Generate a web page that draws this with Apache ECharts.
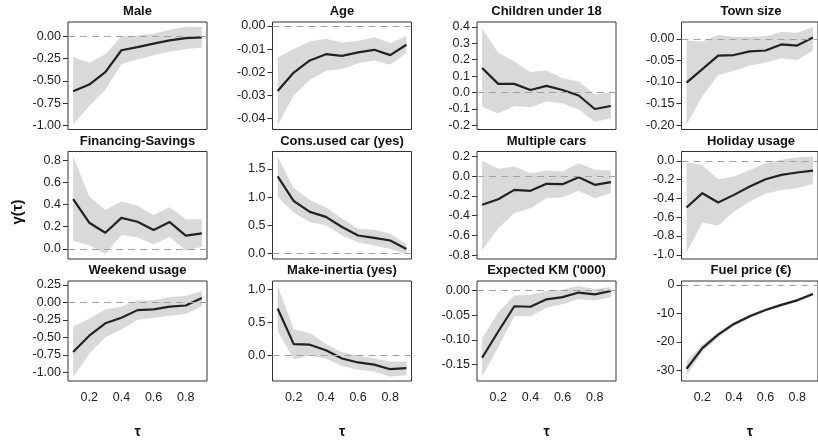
<!DOCTYPE html>
<html><head><meta charset="utf-8">
<script src="https://cdn.jsdelivr.net/npm/echarts@6/dist/echarts.min.js"></script>
<style>html,body{margin:0;padding:0;background:#fff}#c{width:818px;height:440px}</style>
</head><body><div id="c"></div>
<script>
const tau = [0.1,0.2,0.3,0.4,0.5,0.6,0.7,0.8,0.9];
const xTickLabels = ["0.2","0.4","0.6","0.8"];

const titles = ["Male","Age","Children under 18","Town size","Financing-Savings","Cons.used car (yes)","Multiple cars","Holiday usage","Weekend usage","Make-inertia (yes)","Expected KM ('000)","Fuel price (\u20ac)"];

const maleEst = [-0.615,-0.54,-0.40,-0.155,-0.12,-0.08,-0.045,-0.02,-0.01];
const maleLo  = [-0.99,-0.78,-0.60,-0.31,-0.26,-0.21,-0.17,-0.145,-0.125];
const maleHi  = [-0.23,-0.295,-0.20,0.0,0.01,0.03,0.075,0.11,0.105];
const maleTicks = ["0.00","-0.25","-0.50","-0.75","-1.00"];

const ageEst = [-0.0281,-0.0201,-0.0149,-0.0122,-0.0129,-0.0114,-0.0103,-0.0126,-0.0081];
const ageLo  = [-0.0429,-0.0299,-0.0233,-0.0193,-0.0186,-0.0161,-0.0149,-0.0168,-0.0117];
const ageHi  = [-0.0136,-0.0100,-0.0067,-0.0055,-0.0071,-0.0065,-0.0049,-0.0074,-0.0045];
const ageTicks = ["0.00","-0.01","-0.02","-0.03","-0.04"];

const childEst = [0.15,0.053,0.053,0.016,0.041,0.016,-0.018,-0.10,-0.082];
const childLo  = [-0.086,-0.127,-0.082,-0.09,-0.055,-0.066,-0.103,-0.178,-0.158];
const childHi  = [0.39,0.242,0.19,0.125,0.135,0.088,0.068,-0.01,0.0];
const childTicks = ["0.4","0.3","0.2","0.1","0.0","-0.1","-0.2"];

const townEst = [-0.1016,-0.070,-0.039,-0.0375,-0.029,-0.027,-0.013,-0.0156,0.003];
const townLo  = [-0.199,-0.133,-0.084,-0.074,-0.0625,-0.055,-0.045,-0.049,-0.027];
const townHi  = [-0.004,-0.006,0.009,0.004,0.004,0.006,0.016,0.014,0.027];
const townTicks = ["0.00","-0.05","-0.10","-0.15","-0.20"];

const finEst = [0.45,0.236,0.145,0.28,0.245,0.17,0.242,0.12,0.14];
const finLo  = [0.073,0.033,-0.048,0.124,0.103,0.042,0.109,-0.018,0.018];
const finHi  = [0.836,0.473,0.35,0.427,0.39,0.306,0.376,0.267,0.267];
const finTicks = ["0.8","0.6","0.4","0.2","0.0"];

const consEst = [1.368,0.93,0.738,0.648,0.468,0.318,0.276,0.228,0.078];
const consLo  = [1.008,0.72,0.558,0.498,0.318,0.198,0.138,0.078,-0.012];
const consHi  = [1.716,1.158,0.948,0.816,0.618,0.438,0.42,0.348,0.168];
const consTicks = ["1.5","1.0","0.5","0.0"];

const multEst = [-0.29,-0.234,-0.139,-0.149,-0.078,-0.081,-0.01,-0.088,-0.06];
const multLo  = [-0.75,-0.529,-0.376,-0.325,-0.224,-0.214,-0.149,-0.224,-0.173];
const multHi  = [0.156,0.075,0.098,0.03,0.058,0.047,0.132,0.064,0.058];
const multTicks = ["0.2","0.0","-0.2","-0.4","-0.6","-0.8"];

const holEst = [-0.496,-0.344,-0.443,-0.362,-0.273,-0.195,-0.149,-0.124,-0.103];
const holLo  = [-0.975,-0.656,-0.691,-0.539,-0.433,-0.351,-0.309,-0.291,-0.245];
const holHi  = [-0.018,-0.043,-0.195,-0.167,-0.096,-0.025,0.011,0.039,0.046];
const holTicks = ["0.0","-0.2","-0.4","-0.6","-0.8","-1.0"];

const wkEst = [-0.706,-0.474,-0.298,-0.219,-0.11,-0.10,-0.061,-0.044,0.061];
const wkLo  = [-1.066,-0.737,-0.496,-0.386,-0.246,-0.224,-0.189,-0.167,-0.057];
const wkHi  = [-0.342,-0.232,-0.10,-0.057,0.03,0.03,0.075,0.096,0.162];
const wkTicks = ["0.25","0.00","-0.25","-0.50","-0.75","-1.00"];

const makeEst = [0.71,0.168,0.159,0.075,-0.051,-0.112,-0.145,-0.215,-0.20];
const makeLo  = [0.369,-0.065,-0.005,-0.051,-0.168,-0.224,-0.252,-0.332,-0.308];
const makeHi  = [1.056,0.393,0.336,0.168,0.042,-0.005,-0.051,-0.098,-0.098];
const makeTicks = ["1.0","0.5","0.0"];

const kmEst = [-0.136,-0.083,-0.032,-0.033,-0.018,-0.0136,-0.0043,-0.008,-0.0012];
const kmLo  = [-0.174,-0.115,-0.052,-0.052,-0.035,-0.028,-0.018,-0.020,-0.0136];
const kmHi  = [-0.097,-0.044,-0.0105,-0.009,-0.001,0.002,0.009,0.003,0.007];
const kmTicks = ["0.00","-0.05","-0.10","-0.15"];

const fuelEst = [-29.5,-22.2,-17.5,-13.7,-11.0,-8.8,-7.0,-5.4,-3.2];
const fuelLo  = [-31.8,-23.6,-18.5,-14.5,-11.6,-9.3,-7.5,-5.9,-3.8];
const fuelHi  = [-26.8,-21.0,-16.6,-13.0,-10.4,-8.3,-6.5,-4.9,-2.6];
const fuelTicks = ["0","-10","-20","-30"];

const panels = [
  {est:maleEst, lo:maleLo, hi:maleHi, ticks:maleTicks, ymin:-1.045, ymax:0.162},
  {est:ageEst, lo:ageLo, hi:ageHi, ticks:ageTicks, ymin:-0.0447, ymax:0.0017},
  {est:childEst, lo:childLo, hi:childHi, ticks:childTicks, ymin:-0.225, ymax:0.43},
  {est:townEst, lo:townLo, hi:townHi, ticks:townTicks, ymin:-0.21, ymax:0.039},
  {est:finEst, lo:finLo, hi:finHi, ticks:finTicks, ymin:-0.092, ymax:0.88},
  {est:consEst, lo:consLo, hi:consHi, ticks:consTicks, ymin:-0.1, ymax:1.81},
  {est:multEst, lo:multLo, hi:multHi, ticks:multTicks, ymin:-0.84, ymax:0.25},
  {est:holEst, lo:holLo, hi:holHi, ticks:holTicks, ymin:-1.045, ymax:0.1},
  {est:wkEst, lo:wkLo, hi:wkHi, ticks:wkTicks, ymin:-1.12, ymax:0.305},
  {est:makeEst, lo:makeLo, hi:makeHi, ticks:makeTicks, ymin:-0.395, ymax:1.13},
  {est:kmEst, lo:kmLo, hi:kmHi, ticks:kmTicks, ymin:-0.183, ymax:0.019},
  {est:fuelEst, lo:fuelLo, hi:fuelHi, ticks:fuelTicks, ymin:-33.8, ymax:1.4}
];

const colLeft = [68, 272.5, 477, 681.5];
const rowTop = [22, 151.5, 281];
const W = 139, H = 107.5;
const FONT = "'Liberation Sans', Arial, sans-serif";

const grid = [], xAxis = [], yAxis = [], series = [], title = [];
panels.forEach((p, k) => {
  const r = Math.floor(k / 4), c = k % 4;
  const bottom = r === 2;
  grid.push({left: colLeft[c], top: rowTop[r], width: W, height: H, show: true,
    borderColor: '#333', borderWidth: 1, backgroundColor: 'transparent', containLabel: false});
  title.push({text: titles[k], left: colLeft[c] + W / 2, top: rowTop[r] - 17, textAlign: 'center', padding: 0,
    textStyle: {fontFamily: FONT, fontSize: 13, fontWeight: 'bold', color: '#111'}});
  xAxis.push({type: 'value', gridIndex: k, min: 0.068, max: 0.932,
    axisLine: {show: false}, splitLine: {show: false},
    axisTick: {show: false},
    axisLabel: {show: bottom, customValues: xTickLabels.map(Number), margin: 10,
      formatter: v => v.toFixed(1), fontFamily: FONT, fontSize: 12.5, color: '#222'},
    name: bottom ? '\u03c4' : '', nameLocation: 'middle', nameGap: 44,
    nameTextStyle: {fontFamily: FONT, fontSize: 14, fontWeight: 'bold', color: '#111'}});
  const tv = p.ticks.map(Number);
  yAxis.push({type: 'value', gridIndex: k, min: p.ymin, max: p.ymax,
    axisLine: {show: false}, splitLine: {show: false},
    axisTick: {show: true, inside: false, length: 5, customValues: tv, lineStyle: {color: '#333', width: 1}},
    axisLabel: {show: true, customValues: tv, margin: 7, fontFamily: FONT, fontSize: 12.5, color: '#222',
      formatter: v => { const i = tv.findIndex(t => Math.abs(t - v) < 1e-9); return i >= 0 ? p.ticks[i] : ''; }}});
  // confidence band as a single polygon through the library's coordinate system
  series.push({type: 'custom', xAxisIndex: k, yAxisIndex: k, silent: true, z: 1, clip: true,
    data: tau.map((t, i) => [t, p.lo[i], p.hi[i]]),
    encode: {x: 0, y: [1, 2]},
    renderItem: (params, api) => {
      if (params.dataIndex !== 0) return null;
      const upper = tau.map((t, i) => api.coord([t, p.hi[i]]));
      const lower = tau.map((t, i) => api.coord([t, p.lo[i]])).reverse();
      return {type: 'polygon', shape: {points: upper.concat(lower)},
        style: {fill: '#d9d9d9', stroke: null}};
    }});
  series.push({type: 'line', xAxisIndex: k, yAxisIndex: k,
    data: tau.map((t, i) => [t, p.est[i]]), symbol: 'none', silent: true,
    lineStyle: {color: '#222', width: 2.2}, z: 3,
    markLine: {silent: true, symbol: 'none', label: {show: false}, animation: false,
      lineStyle: {color: '#a3a3a3', type: [7, 5], width: 1}, data: [{yAxis: 0}]}});
});

const chart = echarts.init(document.getElementById('c'), null, {renderer: 'canvas'});
chart.setOption({
  animation: false,
  backgroundColor: '#fff',
  title, grid, xAxis, yAxis, series,
  graphic: [{type: 'text', x: 18, y: 212, rotation: Math.PI / 2,
    style: {text: '\u03b3(\u03c4)', font: "bold 15px 'Liberation Sans', Arial, sans-serif",
      fill: '#111', textAlign: 'center', textVerticalAlign: 'middle'}}]
});
</script></body></html>
